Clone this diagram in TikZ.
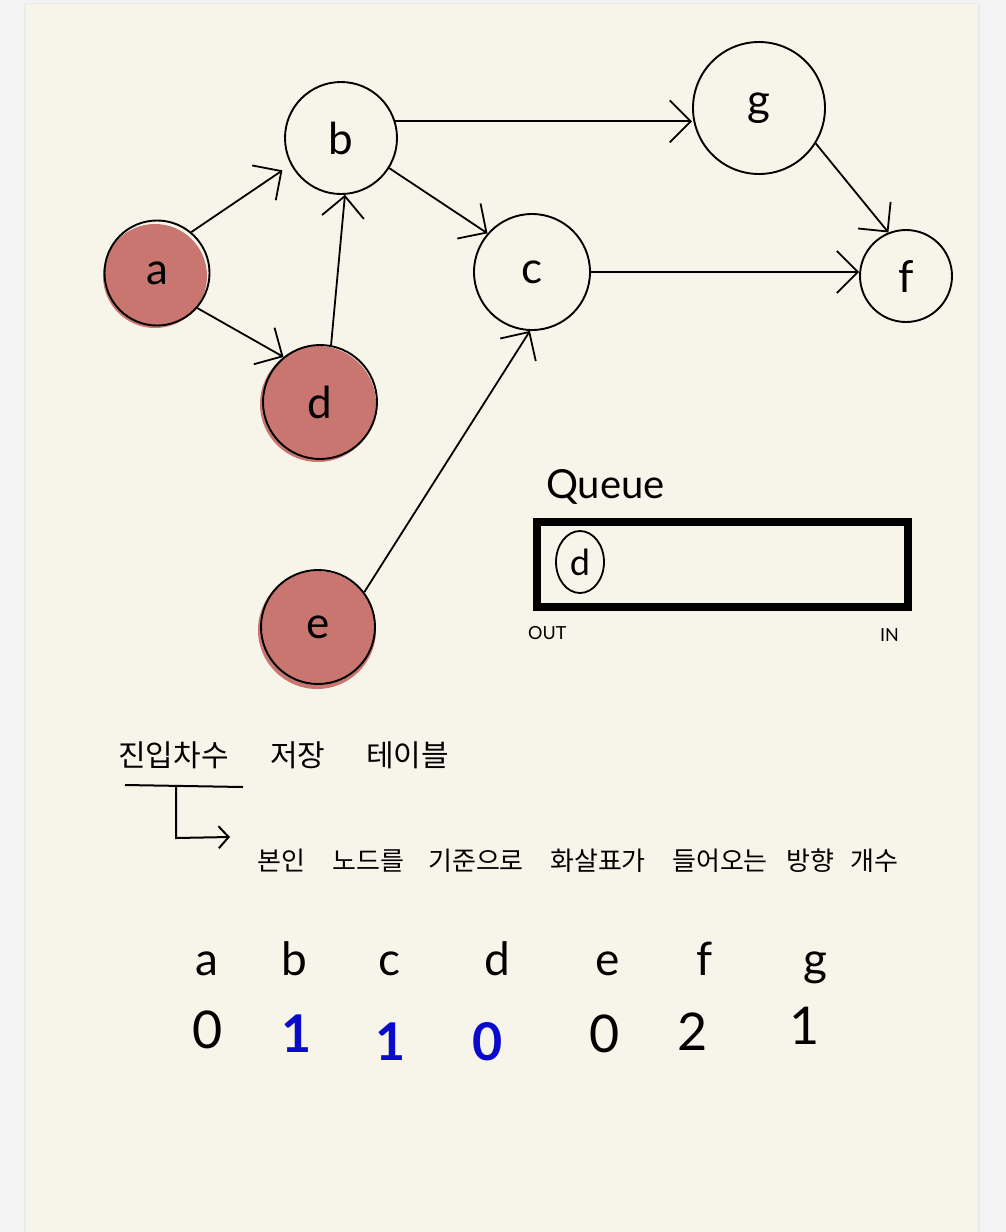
\documentclass[tikz,border=0pt]{standalone}
\usepackage{fontspec}
\setmainfont{Lato}
\newfontfamily\kr{Noto Sans CJK KR}
\usetikzlibrary{arrows.meta,shapes.geometric}
\definecolor{paper}{HTML}{F7F5EA}
\definecolor{outer}{HTML}{F3F3F3}
\definecolor{redfill}{HTML}{C8766F}
\definecolor{inkblue}{HTML}{0A0ACC}
\tikzset{
  vertex/.style={circle,draw=black,line width=1.9pt,inner sep=0pt,font=\fontsize{44}{44}\selectfont},
  edge/.style={line width=1.8pt,-{Straight Barb[length=21pt,width=42pt,line width=1.8pt]}},
  blob/.style={fill=redfill,draw=none},
  hdr/.style={font=\kr\fontsize{30}{30}\selectfont,anchor=base west,inner sep=0pt},
  sub/.style={font=\kr\fontsize{26}{26}\selectfont,anchor=base west,inner sep=0pt},
  tlet/.style={font=\fontsize{46}{46}\selectfont,anchor=base,inner sep=0pt},
  tnum/.style={font=\fontsize{52}{52}\selectfont,anchor=base,inner sep=0pt},
  bluenum/.style={tnum,text=inkblue,font=\bfseries\fontsize{52}{52}\selectfont},
  small/.style={font=\fontsize{18}{18}\selectfont,anchor=base west,inner sep=0pt}
}
\begin{document}
\begin{tikzpicture}[x=1pt,y=-1pt]
\useasboundingbox (0,0) rectangle (1006,1232);
\fill[outer] (0,0) rectangle (1006,1232);
\fill[black!8] (24,3) rectangle (980,1232);
\fill[paper] (26,4) rectangle (978,1232);

% red blobs
\fill[blob] (155,276) circle (52);
\fill[blob] (318,404) circle (58);
\fill[blob] (317,630) circle (59);

% nodes
\node[vertex,minimum size=105pt] (a) at (157,273) {a};
\node[vertex,minimum size=112pt] (b) at (341,138) {b};
\node[vertex,minimum size=116pt] (c) at (532,272) {c};
\node[vertex,minimum size=114pt] (d) at (320,402) {d};
\node[vertex,minimum size=114pt] (e) at (318,627) {e};
\node[vertex,minimum size=132pt] (g) at (759,108) {g};
\node[vertex,minimum size=92pt] (f) at (906,276) {f};

% edges
\draw[edge,shorten >=10pt] (a.50) -- (b.208);
\draw[edge] (a.-41) -- (d.129);
\draw[edge] (d.79) -- (b.-86);
\draw[edge] (b.-32) -- (c.139);
\draw[edge] (b.17) -- (b.17 -| g.west);
\draw[edge] (c.0) -- (c.0 -| f.west);
\draw[edge] (g.-32) -- (f.112);
\draw[edge] (e.37) -- (c.-92);

% queue
\node[font=\fontsize{40}{40}\selectfont,anchor=base west,inner sep=0pt] (qlabel) at (546,498) {Queue};
\draw[line width=8pt] (537,522) rectangle (908,607);
\node[draw,ellipse,line width=1.8pt,minimum width=48pt,minimum height=62pt,inner sep=0pt,font=\fontsize{36}{36}\selectfont] (qd) at (580,562) {d};
\node[small] (qout) at (528,639) {OUT};
\node[small] (qin) at (880,641) {IN};

% header
\node[hdr] (h1) at (118,766) {진입차수};
\node[hdr] (h2) at (270,766) {저장};
\node[hdr] (h3) at (366,766) {테이블};
\draw[line width=2pt] (125,785) -- (243,787);
\coordinate (lstart) at (176,787);
\coordinate (lend) at (230,837);
\draw[line width=2pt,-{Straight Barb[length=10pt,width=22pt,line width=2pt]}] (lstart) -- (176,838) -- (lend);

% explanation
\node[sub] (s1) at (257,870) {본인};
\node[sub] (s2) at (332,870) {노드를};
\node[sub] (s3) at (428,870) {기준으로};
\node[sub] (s4) at (550,870) {화살표가};
\node[sub] (s5) at (672,870) {들어오는};
\node[sub] (s6) at (786,870) {방향};
\node[sub] (s7) at (850,870) {개수};

% table
\node[tlet] (ta) at (207,975) {a};
\node[tlet] (tb) at (294,975) {b};
\node[tlet] (tc) at (389,975) {c};
\node[tlet] (td) at (497,975) {d};
\node[tlet] (te) at (608,975) {e};
\node[tlet] (tf) at (705,975) {f};
\node[tlet] (tg) at (815,975) {g};

\node[tnum] (na) at (208,1048) {0};
\node[bluenum] (nb) at (297,1052) {1};
\node[bluenum] (nc) at (391,1060) {1};
\node[bluenum] (nd) at (488,1060) {0};
\node[tnum] (ne) at (605,1052) {0};
\node[tnum] (nf) at (693,1050) {2};
\node[tnum] (ng) at (805,1044) {1};
\end{tikzpicture}
\end{document}
